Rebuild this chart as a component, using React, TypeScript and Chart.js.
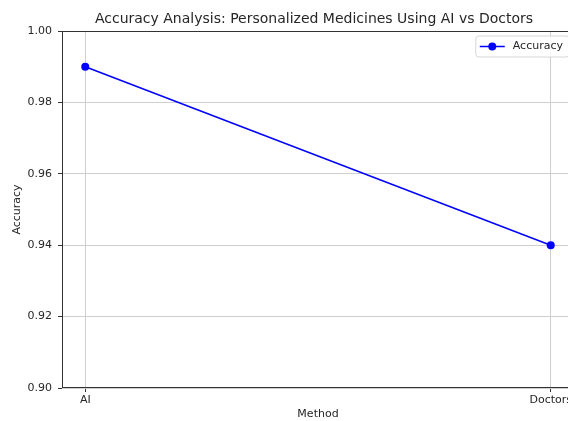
import React, { useEffect, useRef } from "react";
import { Chart, registerables } from "chart.js";

Chart.register(...registerables);

const categories = ["AI", "Doctors"];
const accuracy = [0.99, 0.94];
const yTicks = [0.9, 0.92, 0.94, 0.96, 0.98, 1.0];
const titleText = "Accuracy Analysis: Personalized Medicines Using AI vs Doctors";
const seriesLabel = "Accuracy";

const FONT = "'DejaVu Sans', sans-serif";
const TEXT = "#262626";
const GRID = "#cfcfcf";
const SPINE = "#333";

const framePlugin = {
  id: "frame",
  afterDatasetsDraw(chart: any) {
    const { ctx, chartArea } = chart;
    ctx.save();
    ctx.strokeStyle = SPINE;
    ctx.lineWidth = 1;
    ctx.strokeRect(
      Math.round(chartArea.left) + 0.5,
      Math.round(chartArea.top) + 0.5,
      Math.round(chartArea.right - chartArea.left) - 1,
      Math.round(chartArea.bottom - chartArea.top) - 1
    );
    ctx.restore();
  },
  afterDraw(chart: any) {
    const { ctx, chartArea } = chart;
    ctx.save();
    ctx.font = "11px " + FONT;
    const textW = ctx.measureText(seriesLabel).width;
    const h = 21;
    const w = 37 + textW + 6;
    const x = chartArea.right - 5 - w;
    const y = chartArea.top + 5;
    const r = 3;
    ctx.beginPath();
    ctx.moveTo(x + r, y);
    ctx.lineTo(x + w - r, y);
    ctx.arcTo(x + w, y, x + w, y + r, r);
    ctx.lineTo(x + w, y + h - r);
    ctx.arcTo(x + w, y + h, x + w - r, y + h, r);
    ctx.lineTo(x + r, y + h);
    ctx.arcTo(x, y + h, x, y + h - r, r);
    ctx.lineTo(x, y + r);
    ctx.arcTo(x, y, x + r, y, r);
    ctx.closePath();
    ctx.fillStyle = "rgba(255,255,255,0.85)";
    ctx.fill();
    ctx.strokeStyle = "#d6d6d6";
    ctx.lineWidth = 1;
    ctx.stroke();
    const cy = y + h / 2;
    ctx.strokeStyle = "#0000ff";
    ctx.lineWidth = 1.5;
    ctx.beginPath();
    ctx.moveTo(x + 4, cy);
    ctx.lineTo(x + 29, cy);
    ctx.stroke();
    ctx.fillStyle = "#0000ff";
    ctx.beginPath();
    ctx.arc(x + 16.5, cy, 4, 0, Math.PI * 2);
    ctx.fill();
    ctx.fillStyle = TEXT;
    ctx.textBaseline = "middle";
    ctx.textAlign = "left";
    ctx.fillText(seriesLabel, x + 37, cy);
    ctx.restore();
  },
};

export default function App() {
  const ref = useRef<HTMLCanvasElement>(null);
  useEffect(() => {
    if (!ref.current) return;
    const chart = new Chart(ref.current, {
      type: "line",
      data: {
        datasets: [
          {
            label: seriesLabel,
            data: categories.map((c, i) => ({ x: i, y: accuracy[i] })),
            borderColor: "#0000ff",
            backgroundColor: "#0000ff",
            borderWidth: 1.5,
            pointRadius: 4,
            pointHoverRadius: 4,
            pointBorderWidth: 0,
            tension: 0,
            yAxisID: "y",
          },
        ],
      },
      options: {
        responsive: false,
        animation: false,
        layout: { padding: { left: 0, right: 0, top: 0, bottom: 0 } },
        plugins: {
          legend: { display: false },
          tooltip: { enabled: false },
          title: {
            display: true,
            text: titleText,
            color: TEXT,
            font: { family: FONT, size: 14, weight: "normal" as any, lineHeight: 1.2 },
            padding: { top: 11, bottom: 3.2 },
          },
        },
        scales: {
          x: {
            type: "linear",
            min: -0.05,
            max: 1.05,
            afterBuildTicks: (s: any) => {
              s.ticks = categories.map((_, i) => ({ value: i }));
            },
            afterFit: (s: any) => {
              s.height = 33;
            },
            ticks: {
              color: TEXT,
              font: { family: FONT, size: 11 },
              padding: 2,
              maxRotation: 0,
              autoSkip: false,
              callback: (v: any) => categories[Math.round(Number(v))] ?? "",
            },
            grid: {
              color: GRID,
              lineWidth: 1,
              tickLength: 4,
              tickColor: SPINE,
            },
            border: { display: false },
            title: {
              display: true,
              text: "Method",
              color: TEXT,
              font: { family: FONT, size: 11, lineHeight: 1.2 },
              padding: { top: 0, bottom: 0 },
            },
          },
          y: {
            type: "linear",
            position: "left",
            min: 0.9,
            max: 1.0,
            afterBuildTicks: (s: any) => {
              s.ticks = yTicks.map((v) => ({ value: v }));
            },
            afterFit: (s: any) => {
              s.width = 62;
            },
            ticks: {
              color: TEXT,
              font: { family: FONT, size: 11 },
              padding: 6,
              callback: (v: any) => Number(v).toFixed(2),
            },
            grid: {
              color: GRID,
              lineWidth: 1,
              tickLength: 4,
              tickColor: SPINE,
            },
            border: { display: false },
            title: {
              display: true,
              text: "Accuracy",
              color: TEXT,
              font: { family: FONT, size: 11, lineHeight: 1.2 },
              padding: { top: 11, bottom: 0 },
            },
          },
          yRight: {
            type: "linear",
            position: "right",
            min: 0.9,
            max: 1.0,
            afterFit: (s: any) => {
              s.width = 54;
            },
            ticks: { display: false },
            grid: { display: false, drawTicks: false },
            border: { display: false },
          },
        },
      },
      plugins: [framePlugin],
    });
    return () => chart.destroy();
  }, []);
  return (
    <div
      style={{
        position: "fixed",
        left: 0,
        top: 0,
        width: 568,
        height: 421,
        overflow: "hidden",
        background: "#fff",
      }}
    >
      <canvas ref={ref} width={628} height={421} style={{ display: "block" }} />
    </div>
  );
}
